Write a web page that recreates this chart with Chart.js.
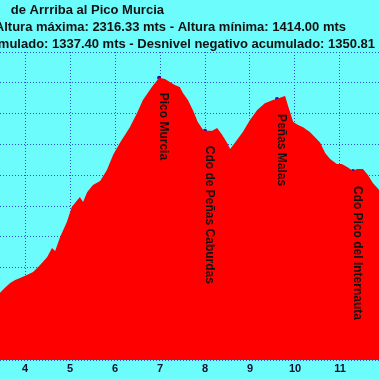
<!DOCTYPE html>
<html>
<head>
<meta charset="utf-8">
<script src="https://cdn.jsdelivr.net/npm/chart.js@4.4.0/dist/chart.umd.min.js"></script>
<style>
  html, body { margin: 0; padding: 0; background: #6cfcfc; }
  #wrap { width: 379px; height: 379px; position: relative; }
</style>
</head>
<body>
<div id="wrap"><canvas id="perfil"></canvas></div>
<script>
"use strict";

// profile (distance km / altitude m)
const km = [3.22, 3.33, 3.44, 3.56, 3.67, 3.78, 3.89, 4.04, 4.18, 4.33, 4.49, 4.60, 4.67, 4.78, 4.93,
  5.04, 5.16, 5.22, 5.29, 5.38, 5.51, 5.67, 5.82, 5.96, 6.11, 6.33, 6.49, 6.62, 6.82, 6.98,
  7.11, 7.22, 7.33, 7.44, 7.51, 7.62, 7.73, 7.84, 7.96, 8.00, 8.16, 8.27, 8.38, 8.49, 8.56,
  8.71, 8.84, 9.00, 9.16, 9.33, 9.51, 9.60, 9.71, 9.78, 9.84, 9.96, 10.07, 10.18, 10.33, 10.44,
  10.56, 10.67, 10.78, 10.93, 11.04, 11.16, 11.29, 11.38, 11.51, 11.62, 11.73, 11.87, 12.00];
const alt = [1592, 1603, 1618, 1635, 1650, 1660, 1666, 1676, 1686, 1708, 1734, 1764, 1754, 1799, 1848,
  1897, 1919, 1929, 1913, 1945, 1968, 1981, 2017, 2066, 2105, 2156, 2202, 2244, 2286, 2316.33,
  2312, 2303, 2293, 2286, 2267, 2244, 2212, 2173, 2147, 2144, 2144, 2153, 2131, 2105, 2085,
  2114, 2140, 2179, 2212, 2234, 2244, 2247, 2254, 2257, 2228, 2173, 2163, 2156, 2140, 2124,
  2105, 2072, 2053, 2036, 2036, 2027, 2014, 2020, 2020, 2001, 1975, 1952, 1919];

// waypoints
const wpNames = ['Pico Murcia', 'Cdo de Peñas Caburdas', 'Peñas Malas', 'Cdo Pico del Internauta'];
const wpKm = [6.98, 8.00, 9.60, 11.29];
const wpAlt = [2316.33, 2144, 2247, 2014];

const titleLines = [
  'de Arrriba al Pico Murcia',
  'Altura máxima: 2316.33 mts - Altura mínima: 1414.00 mts',
  'Desnivel positivo acumulado: 1337.40 mts - Desnivel negativo acumulado: 1350.81 mts'
];

const profile = km.map((k, i) => ({ x: k, y: alt[i] }));
const waypoints = wpKm.map((k, i) => ({ x: k, y: wpAlt[i] }));

const gridStyle = {
  color: '#2a4fd0',
  lineWidth: 1,
  drawTicks: false
};

// title + waypoint names, drawn on top
const textPlugin = {
  id: 'texts',
  afterDraw(chart) {
    const ctx = chart.ctx;
    const xs = chart.scales.x;
    const ys = chart.scales.y;
    ctx.save();
    ctx.fillStyle = '#111';
    ctx.font = 'bold 13px "Liberation Sans", Arial, sans-serif';
    ctx.textBaseline = 'alphabetic';
    ctx.textAlign = 'right';
    ctx.fillText(titleLines[0], 164, 14);
    ctx.fillText(titleLines[1], 346, 31);
    const tail = ctx.measureText(' mts').width;
    ctx.fillText(titleLines[2], 375 + tail, 48);

    ctx.font = 'bold 12px "Liberation Sans", Arial, sans-serif';
    ctx.textAlign = 'left';
    wpNames.forEach((name, i) => {
      const px = xs.getPixelForValue(wpKm[i]);
      const py = ys.getPixelForValue(wpAlt[i]);
      ctx.save();
      ctx.translate(px + 1, py + 15);
      ctx.rotate(Math.PI / 2);
      ctx.fillText(name, 0, 0);
      ctx.restore();
    });
    ctx.restore();
  }
};

const config = {
  type: 'line',
  data: {
    datasets: [{
      data: profile,
      borderWidth: 0,
      borderColor: '#ff0000',
      backgroundColor: '#ff0000',
      fill: 'start',
      pointRadius: 0,
      tension: 0
    }, {
      data: waypoints,
      showLine: false,
      pointRadius: 2,
      pointBorderWidth: 0,
      pointBackgroundColor: '#1010c0'
    }]
  },
  options: {
    responsive: false,
    animation: false,
    layout: { autoPadding: false, padding: { top: 52, left: 0, right: 0, bottom: 0 } },
    plugins: {
      legend: { display: false },
      tooltip: { enabled: false },
      title: { display: false }
    },
    scales: {
      x: {
        type: 'linear',
        min: 3.4444,
        max: 11.8667,
        z: 1,
        border: { display: false, dash: [1, 2] },
        grid: gridStyle,
        ticks: {
          stepSize: 1,
          includeBounds: false,
          padding: 2,
          color: '#101030',
          font: { family: '"Liberation Sans", Arial, sans-serif', size: 11, weight: 'bold' },
          maxRotation: 0
        },
        afterFit(scale) {
          scale.height = 19;
          scale.paddingLeft = 0;
          scale.paddingRight = 0;
        }
      },
      y: {
        min: 1400,
        max: 2400,
        z: 1,
        border: { display: false, dash: [1, 2] },
        grid: gridStyle,
        ticks: { display: false, stepSize: 100 },
        afterFit(scale) { scale.width = 0; }
      }
    }
  },
  plugins: [textPlugin]
};

const canvas = document.getElementById('perfil');
canvas.width = 379;
canvas.height = 379;
const perfil = new Chart(canvas, config);
</script>
</body>
</html>
